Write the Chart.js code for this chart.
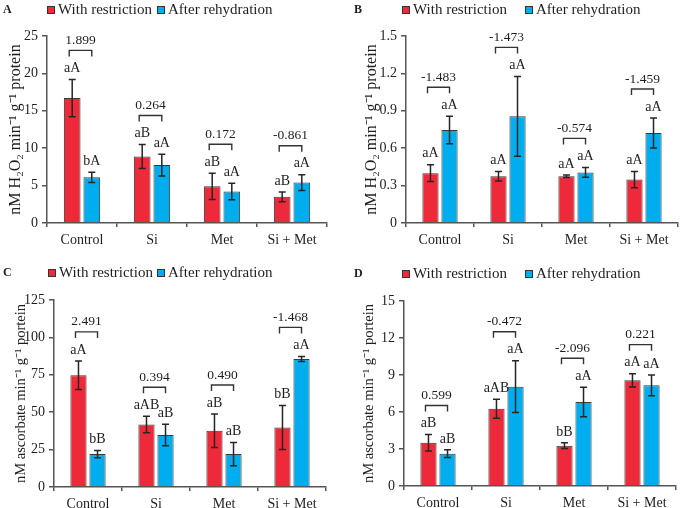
<!DOCTYPE html>
<html><head><meta charset="utf-8">
<script src="https://cdn.jsdelivr.net/npm/chart.js@4.4.0/dist/chart.umd.min.js"></script>
<style>
html,body{margin:0;padding:0;background:#fff;}
#wrap{position:relative;width:682px;height:508px;overflow:hidden;background:#fff;}
.p{position:absolute;width:341px;height:254px;}
canvas{display:block;}
</style></head><body>
<div id="wrap">
<div class="p" style="left:0;top:0"><canvas id="cA" width="341" height="254"></canvas></div>
<div class="p" style="left:341px;top:0"><canvas id="cB" width="341" height="254"></canvas></div>
<div class="p" style="left:0;top:254px"><canvas id="cC" width="341" height="254"></canvas></div>
<div class="p" style="left:341px;top:254px"><canvas id="cD" width="341" height="254"></canvas></div>
</div>
<script>
// ---------- data ----------
const categories = ['Control', 'Si', 'Met', 'Si + Met'];
const seriesNames = ['With restriction', 'After rehydration'];

// Panel A
const restrictA = [16.7, 8.9, 4.9, 3.5];
const restrictErrA = [2.5, 1.6, 1.75, 0.65];
const rehydA = [6.1, 7.75, 4.2, 5.4];
const rehydErrA = [0.7, 1.45, 1.1, 1.05];
const lettersRestrictA = ['aA', 'aB', 'aB', 'aB'];
const lettersRehydA = ['bA', 'aA', 'aA', 'aA'];
const pairA = ['1.899', '0.264', '0.172', '-0.861'];
const ticksA = [0, 5, 10, 15, 20, 25];

// Panel B
const restrictB = [0.40, 0.375, 0.375, 0.348];
const restrictErrB = [0.067, 0.038, 0.011, 0.066];
const rehydB = [0.746, 0.856, 0.406, 0.722];
const rehydErrB = [0.11, 0.32, 0.04, 0.12];
const lettersRestrictB = ['aA', 'aA', 'aA', 'aA'];
const lettersRehydB = ['aA', 'aA', 'aA', 'aA'];
const pairB = ['-1.483', '-1.473', '-0.574', '-1.459'];
const ticksB = [0, 0.3, 0.6, 0.9, 1.2, 1.5];

// Panel C
const restrictC = [74.7, 41.8, 37.6, 39.8];
const restrictErrC = [9.6, 5.5, 11.2, 14.7];
const rehydC = [22.0, 34.7, 22.0, 85.6];
const rehydErrC = [2.4, 7.2, 7.8, 1.7];
const lettersRestrictC = ['aA', 'aAB', 'aB', 'bB'];
const lettersRehydC = ['bB', 'aB', 'aB', 'aA'];
const pairC = ['2.491', '0.394', '0.490', '-1.468'];
const ticksC = [0, 25, 50, 75, 100, 125];

// Panel D
const restrictD = [3.51, 6.27, 3.27, 8.57];
const restrictErrD = [0.67, 0.77, 0.23, 0.54];
const rehydD = [2.62, 8.05, 6.81, 8.16];
const rehydErrD = [0.31, 2.1, 1.2, 0.85];
const lettersRestrictD = ['aB', 'aAB', 'bB', 'aA'];
const lettersRehydD = ['aB', 'aA', 'aA', 'aA'];
const pairD = ['0.599', '-0.472', '-2.096', '0.221'];
const ticksD = [0, 3, 6, 9, 12, 15];

const titleH2O2 = 'nM H\u2082O\u2082 min\u207B\u00B9 g\u207B\u00B9 protein';
const titleAsc = 'nM ascorbate min\u207B\u00B9 g\u207B\u00B9 portein';

// ---------- style ----------
const FONT = "'Liberation Serif', 'Times New Roman', serif";
const RED = '#EE2A3A';
const BLUE = '#00AEEF';
const INK = '#1e1e1e';
const AXIS = '#555555';
const colors = [RED, BLUE];

Chart.defaults.font.family = FONT;
Chart.defaults.color = INK;

function makePanel(p) {
  const annot = {
    id: 'annot' + p.letter,
    afterDatasetsDraw(chart) {
      const ctx = chart.ctx, y = chart.scales.y;
      const metas = [chart.getDatasetMeta(0), chart.getDatasetMeta(1)];
      ctx.save();
      ctx.textAlign = 'center';
      ctx.textBaseline = 'middle';
      for (let i = 0; i < categories.length; i++) {
        const lettersY = [];
        const xs = [];
        for (let k = 0; k < 2; k++) {
          const v = p.values[k][i], e = p.errors[k][i];
          const x = metas[k].data[i].x;
          xs.push(x);
          const yt = y.getPixelForValue(v + e), yb = y.getPixelForValue(v - e);
          ctx.strokeStyle = '#262626';
          ctx.lineWidth = 1.5;
          ctx.beginPath();
          ctx.moveTo(x, yt); ctx.lineTo(x, yb);
          ctx.moveTo(x - 3.5, yt); ctx.lineTo(x + 3.5, yt);
          ctx.moveTo(x - 3.5, yb); ctx.lineTo(x + 3.5, yb);
          ctx.stroke();
          const ly = yt - 11;
          ctx.fillStyle = INK;
          ctx.font = '14px ' + FONT;
          ctx.fillText(p.letters[k][i], x, ly);
          lettersY.push(ly);
        }
        const bb = Math.min(...lettersY) - 12;
        const bt = bb - 6;
        const x0 = xs[0] - 3, x1 = xs[1];
        ctx.strokeStyle = '#333';
        ctx.lineWidth = 1.4;
        ctx.beginPath();
        ctx.moveTo(x0, bb); ctx.lineTo(x0, bt); ctx.lineTo(x1, bt); ctx.lineTo(x1, bb);
        ctx.stroke();
        ctx.font = '13.5px ' + FONT;
        ctx.fillText(p.pair[i], (x0 + x1) / 2, bt - 10);
      }
      ctx.restore();
    },
    afterDraw(chart) {
      const ctx = chart.ctx;
      ctx.save();
      ctx.textBaseline = 'middle';
      ctx.textAlign = 'left';
      ctx.font = '15px ' + FONT;
      for (let k = 0; k < 2; k++) {
        const sx = p.legX[k];
        ctx.fillStyle = colors[k];
        ctx.fillRect(sx, p.legY - 4, 8, 8);
        ctx.strokeStyle = '#333';
        ctx.lineWidth = 1;
        ctx.strokeRect(sx + 0.5, p.legY - 3.5, 7, 7);
        ctx.fillStyle = INK;
        ctx.fillText(chart.data.datasets[k].label, sx + 11, p.legY + 0.5);
      }
      ctx.font = 'bold 12px ' + FONT;
      ctx.fillText(p.letter, p.letterX, p.legY);
      ctx.restore();
    }
  };

  new Chart(document.getElementById(p.canvas), {
    type: 'bar',
    data: {
      labels: categories,
      datasets: [0, 1].map(k => ({
        label: seriesNames[k],
        data: p.values[k],
        backgroundColor: colors[k],
        borderColor: '#3a3a3a',
        borderWidth: 1,
        categoryPercentage: 0.56,
        barPercentage: 0.85
      }))
    },
    options: {
      responsive: false,
      animation: false,
      devicePixelRatio: 1,
      layout: { padding: { top: p.top, left: 0, right: 341 - p.right, bottom: 0 } },
      plugins: { legend: { display: false }, tooltip: { enabled: false } },
      scales: {
        x: {
          offset: true,
          grid: { drawOnChartArea: false, drawTicks: true, tickLength: 4, color: AXIS, lineWidth: 1.5, offset: true },
          border: { display: true, color: AXIS, width: 1.5 },
          ticks: { font: { size: 14, family: FONT }, color: INK, padding: 5, maxRotation: 0, autoSkip: false },
          afterFit(s) { s.height = 254 - p.bottom; }
        },
        y: {
          min: p.ticks[0],
          max: p.ticks[p.ticks.length - 1],
          afterBuildTicks(s) { s.ticks = p.ticks.map(v => ({ value: v })); },
          grid: { drawOnChartArea: false, drawTicks: true, tickLength: 5, color: AXIS, lineWidth: 1.5 },
          border: { display: true, color: AXIS, width: 1.5 },
          ticks: { font: { size: 14, family: FONT }, color: INK, padding: 4, callback: v => String(v) },
          title: { display: true, text: p.title, font: { size: p.titleSize, family: FONT }, color: INK,
                   padding: { top: p.titleX - p.titleSize * 0.6, bottom: 0 } },
          afterFit(s) { s.width = p.left; }
        }
      }
    },
    plugins: [annot]
  });
}

makePanel({ canvas: 'cA', letter: 'A', values: [restrictA, rehydA], errors: [restrictErrA, rehydErrA],
  letters: [lettersRestrictA, lettersRehydA], pair: pairA, ticks: ticksA, title: titleH2O2, titleSize: 16,
  left: 47, right: 327, top: 36, bottom: 223, titleX: 15.5, legX: [47, 157], legY: 10, letterX: 3 });
makePanel({ canvas: 'cB', letter: 'B', values: [restrictB, rehydB], errors: [restrictErrB, rehydErrB],
  letters: [lettersRestrictB, lettersRehydB], pair: pairB, ticks: ticksB, title: titleH2O2, titleSize: 16,
  left: 65, right: 337, top: 36, bottom: 223, titleX: 31, legX: [61, 184], legY: 10, letterX: 13 });
makePanel({ canvas: 'cC', letter: 'C', values: [restrictC, rehydC], errors: [restrictErrC, rehydErrC],
  letters: [lettersRestrictC, lettersRehydC], pair: pairC, ticks: ticksC, title: titleAsc, titleSize: 14.5,
  left: 54, right: 326, top: 46, bottom: 233, titleX: 21, legX: [48, 157], legY: 19, letterX: 3 });
makePanel({ canvas: 'cD', letter: 'D', values: [restrictD, rehydD], errors: [restrictErrD, rehydErrD],
  letters: [lettersRestrictD, lettersRehydD], pair: pairD, ticks: ticksD, title: titleAsc, titleSize: 14.5,
  left: 63, right: 335, top: 47, bottom: 232, titleX: 28, legX: [61, 184], legY: 20, letterX: 13 });
</script>
</body></html>
